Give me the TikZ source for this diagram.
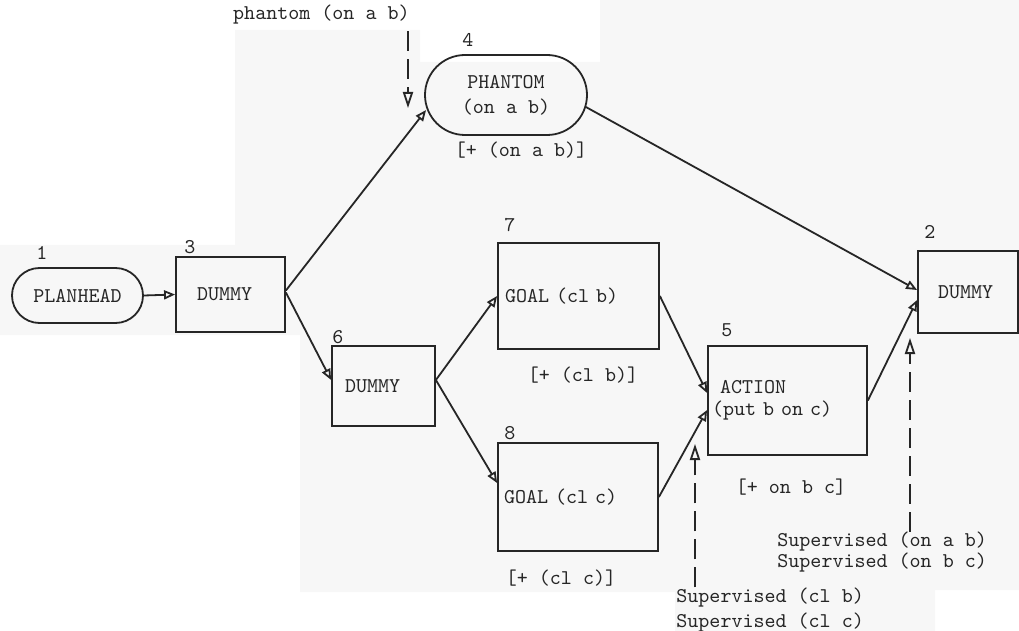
\documentclass[tikz,border=0pt]{standalone}
\usepackage{fontspec}
\usetikzlibrary{arrows.meta}
\begin{document}
\begin{tikzpicture}[x=0.5pt,y=-0.5pt,
  every node/.style={font=\ttfamily\fontsize{10.5}{11}\selectfont, text=black!85, inner sep=0pt},
  box/.style={draw=black!85, line width=0.9pt, rectangle, inner sep=0pt},
  pill/.style={draw=black!85, line width=0.9pt, rectangle, rounded corners=#1, inner sep=0pt},
  conn/.style={draw=black!85, line width=0.9pt, -{Triangle[open,length=5.5pt,width=4.5pt]}},
  dasharrow/.style={draw=black!85, line width=0.9pt, dash pattern=on 10pt off 4pt, -{Triangle[open,length=8pt,width=5pt]}}
]
\useasboundingbox (0,0) rectangle (1019,631);
% scan background tone
\fill[gray!6] (235,30) -- (420,30) -- (420,62) -- (600,62) -- (600,0) -- (1019,0) -- (1019,590) -- (935,590) -- (935,631) -- (675,631) -- (675,592) -- (300,592) -- (300,335) -- (0,335) -- (0,245) -- (235,245) -- cycle;

% nodes
\node[pill=13.75pt, minimum width=65.5pt, minimum height=27.5pt] (p1) at (77.5,295.5) {PLANHEAD};
\node[box, minimum height=37.5pt, inner xsep=10.5pt, text width=33.5pt, align=left] (d3) at (230.5,294.5) {DUMMY};
\node[pill=20pt, minimum width=81pt, minimum height=40pt, align=center] (ph4) at (506,95) {PHANTOM\\[1.5pt](on a b)};
\node[box, minimum height=40pt, inner xsep=6.5pt, text width=38.5pt, align=left] (d6) at (383.5,386) {DUMMY};
\node[box, minimum height=53pt, inner xsep=3.5pt, text width=73.5pt, align=left] (g7) at (578.5,296) {GOAL (cl b)};
\node[box, minimum height=54pt, inner xsep=3pt, text width=74pt, align=left] (g8) at (578,497) {GOAL (cl c)};
\node[box, minimum height=54.5pt, inner xsep=2pt, text width=75.5pt, align=left] (a5) at (787.5,400.5) {\hspace*{4pt}ACTION\\(put b on c)};
\node[box, minimum height=41pt, inner xsep=10pt, text width=30pt, align=left] (d2) at (968,292) {DUMMY};

% node numbers
\node (n1) at (42,253) {1};
\node (n3) at (190,247) {3};
\node (n4) at (468,40) {4};
\node (n6) at (338,337) {6};
\node (n7) at (510,225) {7};
\node (n8) at (510,433) {8};
\node (n5) at (727,330) {5};
\node (n2) at (930,232) {2};

% annotations
\node (ann4) at (521,150) {[+ (on a b)]};
\node (ann7) at (583,375) {[+ (cl b)]};
\node (ann8) at (561,578) {[+ (cl c)]};
\node (ann5) at (791,487) {[+ on b c]};
\node[anchor=east] (top) at (410,15) {phantom (on a b)};
\node[anchor=west, align=left, font=\ttfamily\fontsize{10.5}{10.5}\selectfont] (sup1) at (777,552.5) {Supervised (on a b)\\Supervised (on b c)};
\node[anchor=west, align=left] (sup2) at (676,610) {Supervised (cl b)\\[1.5pt]Supervised (cl c)};

% connectors
\draw[conn] (p1.east) -- (d3.west);
\draw[conn] ([yshift=2pt]d3.east) -- ([shift={(2,15)}]ph4.west);
\draw[conn] ([yshift=1pt]d3.east) -- ([yshift=3pt]d6.west);
\draw[conn] ([yshift=3pt]d6.east) -- (g7.west);
\draw[conn] ([yshift=3pt]d6.east) -- ([yshift=7pt]g8.west);
\draw[conn] (g7.east) -- ([yshift=3.75pt]a5.west);
\draw[conn] (g8.east) -- ([yshift=-4.75pt]a5.west);
\draw[conn] (a5.east) -- ([yshift=-4pt]d2.west);
\draw[conn] ([shift={(-2,12)}]ph4.east) -- ([yshift=1pt]d2.west);

% supervision arrows
\coordinate (t4) at (408,108);
\coordinate (t5) at (695,444);
\coordinate (t2) at (910,338);
\draw[dasharrow] ([yshift=-3pt]top.south -| t4) -- (t4);
\draw[dasharrow] (sup2.north -| t5) -- (t5);
\draw[dasharrow] (sup1.north -| t2) -- (t2);
\end{tikzpicture}
\end{document}
